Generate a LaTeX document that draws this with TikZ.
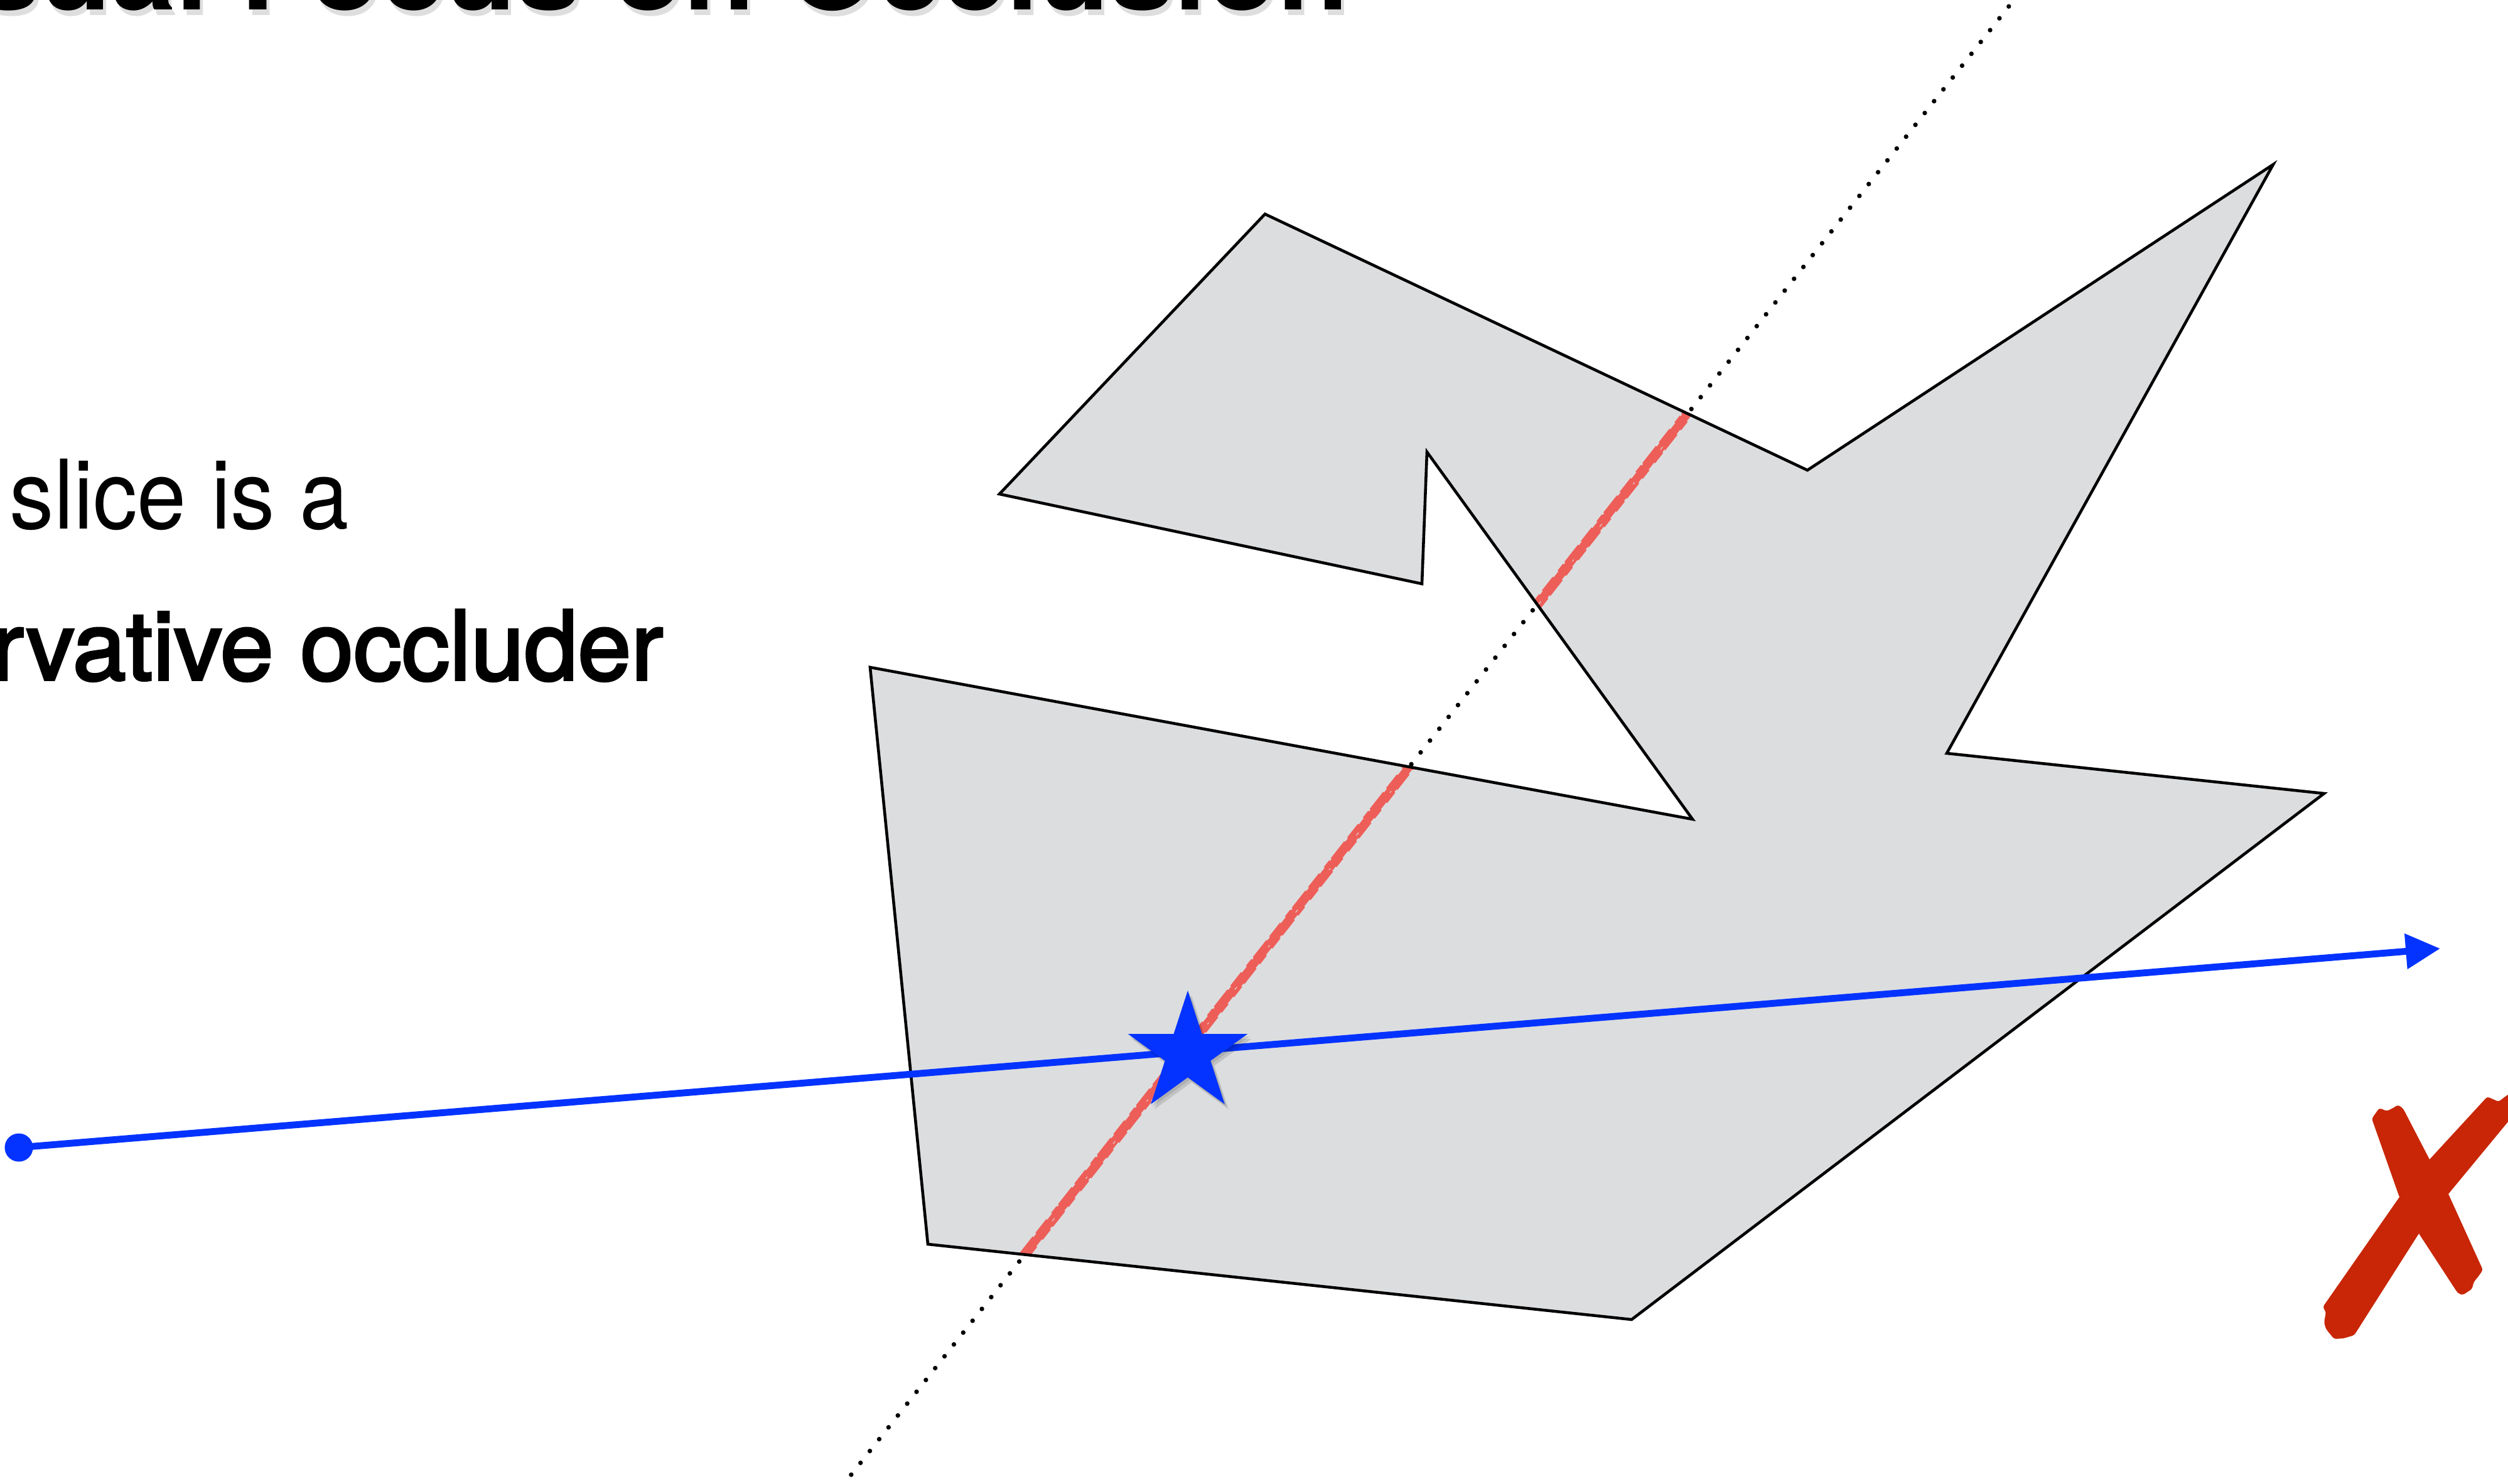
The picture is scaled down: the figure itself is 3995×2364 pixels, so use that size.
\documentclass[tikz,border=0pt]{standalone}
\usepackage{fontspec}
\usepackage{graphicx}
\newfontfamily\heros{TeX Gyre Heros}
\newfontfamily\herosmed[FakeBold=2.6]{TeX Gyre Heros}
\usetikzlibrary{arrows.meta,shapes.geometric}
\definecolor{polyfill}{RGB}{220,221,223}
\definecolor{kblue}{RGB}{4,51,255}
\definecolor{chalk}{RGB}{238,94,88}
\definecolor{xred}{RGB}{200,38,6}
\begin{document}
\begin{tikzpicture}[x=0.01cm,y=-0.01cm,
  titlefont/.style={font=\heros\bfseries\fontsize{52.6pt}{60pt}\selectfont},
  bodyfont/.style={font=\heros\fontsize{43.5pt}{50pt}\selectfont},
  medfont/.style={font=\herosmed\fontsize{43.5pt}{50pt}\selectfont},
  outline/.style={draw=black,line width=1.3pt,line join=miter},
  dotline/.style={black,line width=2.1pt,line cap=round,dash pattern=on 0pt off 6.83pt},
  chalkline/.style={chalk,line width=4.6pt},
  chalkgap/.style={polyfill,line width=0.7pt},
  ray/.style={kblue,line width=3.1pt},
  bluestar/.style={star,star points=5,star point ratio=2.618,minimum size=56.9pt,inner sep=0pt},
  xstroke/.style={fill=xred,rounded corners=1pt}]
\useasboundingbox (0,0) rectangle (3995,2364);
\fill[white] (0,0) rectangle (3995,2364);
\clip (0,0) rectangle (3995,2364);

% polygon vertices
\coordinate (A) at (1592,787);
\coordinate (B) at (2015,341);
\coordinate (C) at (2879,749);
\coordinate (D) at (3621,262);
\coordinate (E) at (3101,1200);
\coordinate (F) at (3702,1264);
\coordinate (G) at (2599,2102);
\coordinate (H) at (1478,1982);
\coordinate (I) at (1386,1063);
\coordinate (J) at (2696,1305);
\coordinate (K) at (2273,720);
\coordinate (L) at (2265,930);

% dotted line
\coordinate (dbot) at (1341,2368);
\coordinate (dtop) at (3211,-4);
\draw[dotline] (dbot) -- (dtop);

% occluder
\fill[polyfill] (A) -- (B) -- (C) -- (D) -- (E) -- (F) -- (G) -- (H) -- (I) -- (J) -- (K) -- (L) -- cycle;
\begin{scope}
  \clip (A) -- (B) -- (C) -- (D) -- (E) -- (F) -- (G) -- (H) -- (I) -- (J) -- (K) -- (L) -- cycle;
  \draw[chalkline] (dbot) -- (dtop);
  \draw[chalkgap,dash pattern=on 4pt off 6pt on 1.5pt off 9pt on 2.5pt off 5pt] ([shift={(6,4.7)}]dbot) -- ([shift={(6,4.7)}]dtop);
  \draw[chalkgap,dash pattern=on 2pt off 8pt on 3.5pt off 4pt on 1pt off 10pt] ([shift={(-6,-4.7)}]dbot) -- ([shift={(-6,-4.7)}]dtop);
  \draw[chalkgap,line width=0.3pt,dash pattern=on 1pt off 19pt on 1.5pt off 23pt] ([shift={(1,1)}]dbot) -- ([shift={(1,1)}]dtop);
\end{scope}
\draw[outline] (A) -- (B) -- (C) -- (D) -- (E) -- (F) -- (G) -- (H) -- (I) -- (J) -- (K) -- (L) -- cycle;

% blue ray
\node (src) [circle,fill=kblue,inner sep=0pt,minimum size=12.8pt] at (30,1828) {};
\coordinate (tip) at (3887,1511);
\draw[ray,-{Triangle[length=15.6pt,width=15.4pt]}] (src.center) -- (tip);

% star with shadow
\node (starshadow) [bluestar,fill=black,opacity=0.12] at (1898,1686) {};
\node (starshadow2) [bluestar,fill=black,opacity=0.10] at (1895,1682) {};
\node (star) [bluestar,fill=kblue] at (1892,1678) {};

% red X
\fill[xstroke] (3778,1782) -- (3790,1765) -- (3802,1770) -- (3812,1765) -- (3820,1760) -- (3828,1766) -- (3870,1847) -- (3900,1902) -- (3955,2023) -- (3948,2033) -- (3940,2043) -- (3938,2053) -- (3923,2063) -- (3915,2060) -- (3853,1965) -- (3822,1907) -- cycle;
\fill[xstroke] (3700,2082) -- (3822,1907) -- (3870,1847) -- (3962,1747) -- (3980,1755) -- (3993,1745) -- (4010,1735) -- (4010,1770) -- (3995,1787) -- (3900,1902) -- (3853,1965) -- (3750,2127) -- (3733,2132) -- (3718,2133) -- (3705,2117) -- (3702,2107) -- (3705,2090) -- cycle;

% title with soft shadow
\node (tshadow) [titlefont,anchor=base west,inner sep=0pt,text=black,opacity=0.13] at (-209,25) {Visual Focus on Occlusion};
\node (title) [titlefont,anchor=base west,inner sep=0pt] at (-214,16) {Visual Focus on Occlusion};

% body text
\node (line1) [bodyfont,anchor=base west,inner sep=0pt] at (15,843) {\scalebox{0.92}[1]{slice is a}};
\node (line2) [medfont,anchor=base east,inner sep=0pt] at (1057,1083) {rvative occluder};
\end{tikzpicture}
\end{document}
